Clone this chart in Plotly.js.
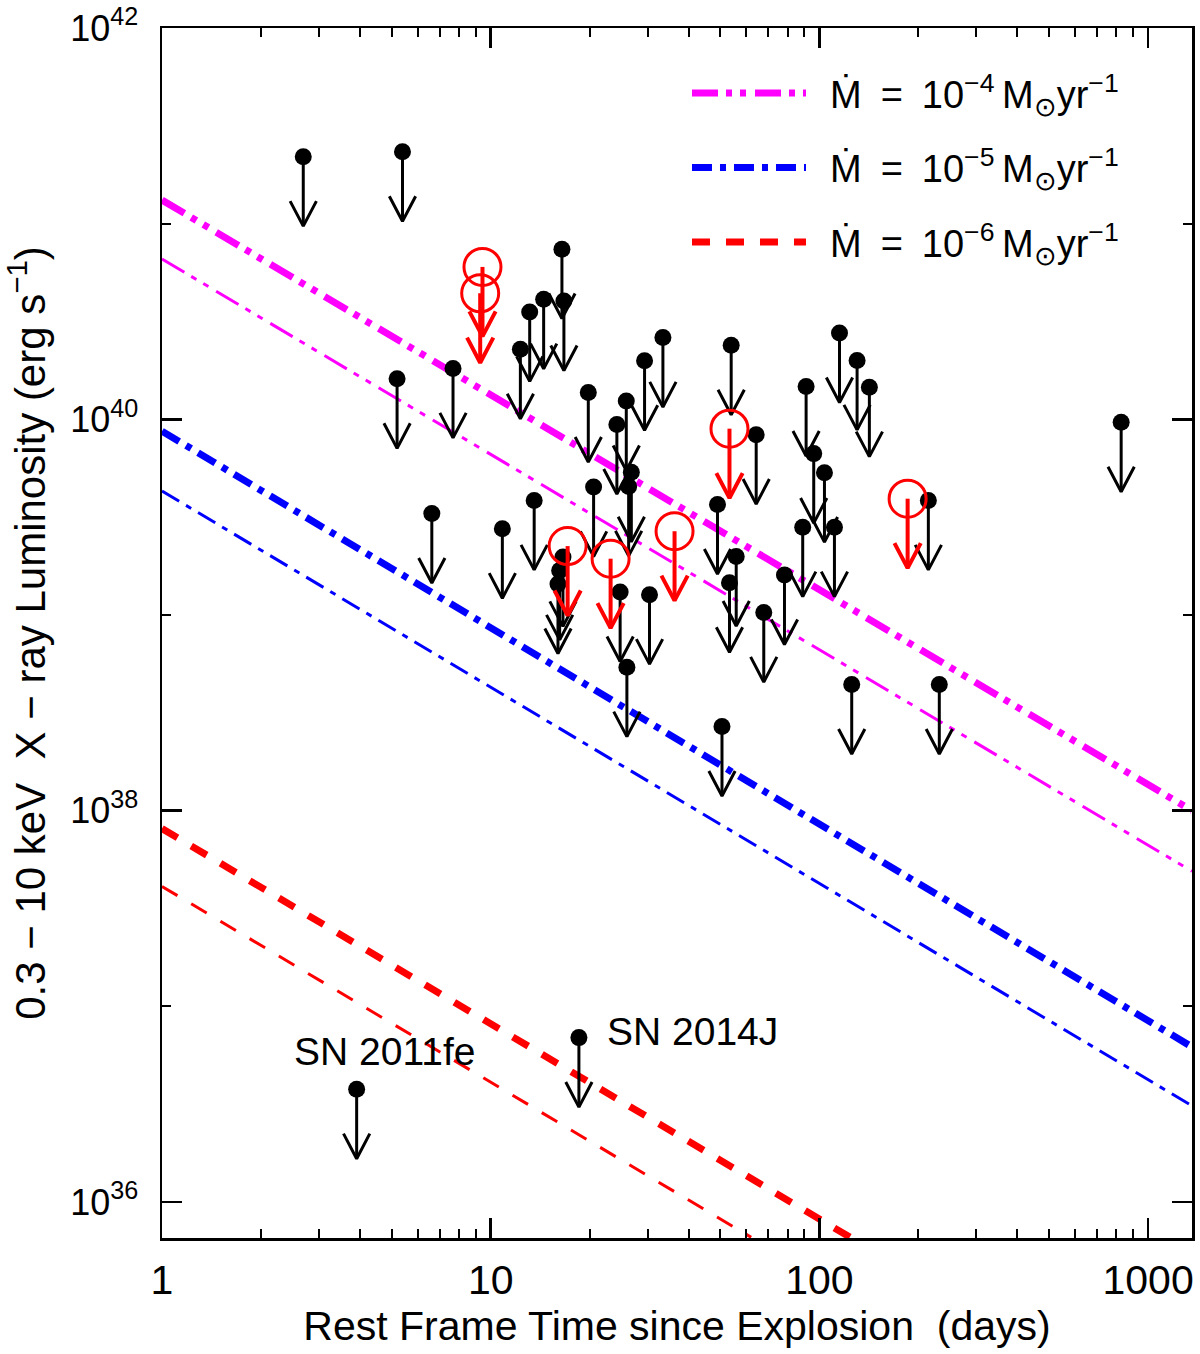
<!DOCTYPE html>
<html>
<head>
<meta charset="utf-8">
<script src="https://cdn.plot.ly/plotly-3.0.1.min.js"></script>
<style>
  html, body { margin: 0; padding: 0; background: #fff; }
  #plot { width: 1200px; height: 1354px; }
</style>
</head>
<body>
<div id="plot"></div>
<script>
// ── Upper limits from the literature (black), days / erg s^-1 ──────────────
const limT = [2.69, 5.39, 5.19, 7.68, 6.62, 10.85, 13.56, 12.31, 13.14, 14.49,
              16.47, 16.70, 19.81, 20.56, 24.20, 25.85, 26.78, 26.28, 29.38, 33.41,
              16.59, 16.21, 16.02, 24.76, 30.42, 25.96, 50.54, 48.97, 53.90, 64.22,
              55.83, 53.26, 67.72, 78.29, 88.96, 96.1, 103.6, 111.1, 91.1, 115.1,
              130.2, 141.9, 125.4, 231.6, 214.5, 827.9];
const limL = [2.20e41, 2.33e41, 1.61e40, 1.82e40, 3.30e39, 2.76e39, 3.85e39, 2.28e40, 3.54e40, 4.11e40,
              7.41e40, 4.02e40, 1.37e40, 4.51e39, 9.40e39, 1.24e40, 5.36e39, 4.54e39, 1.99e40, 2.62e40,
              1.98e39, 1.69e39, 1.44e39, 1.31e39, 1.27e39, 5.41e38, 2.69e38, 3.67e39, 2.39e40, 8.35e39,
              1.99e39, 1.46e39, 1.03e39, 1.60e39, 2.81e39, 6.68e39, 5.34e39, 2.81e39, 1.47e40, 2.76e40,
              2.00e40, 1.46e40, 4.41e38, 4.41e38, 3.85e39, 9.66e39];

// ── Upper limits from this sample (red open circles) ────────────────────────
const newT = [9.44, 9.29, 17.14, 23.16, 36.25, 53.26, 185.5];
const newL = [6.01e40, 4.41e40, 2.25e39, 1.94e39, 2.68e39, 8.96e39, 3.93e39];

// ── Nearby SNe ──────────────────────────────────────────────────────────────
const snNames = ['SN 2011fe', 'SN 2014J'];
const snT = [3.91, 18.55];
const snL = [3.77e36, 6.92e36];
const snLabelT = [4.76, 22.2];
const snLabelL = [5.85e36, 7.41e36];

// ── Wind models, L at the ends of each drawn segment ───────────────────────
const m4T = [1, 1360];
const m4Hi = [1.32e41, 1.0e38];
const m4Lo = [6.6e40, 4.9e37];
const m5T = [1, 1360];
const m5Hi = [8.7e39, 6.2e36];
const m5Lo = [4.3e39, 3.1e36];
const m6HiT = [1, 124];
const m6Hi = [8.1e37, 6.6e35];
const m6LoT = [1, 62];
const m6Lo = [4.1e37, 6.6e35];

const modelNames = [
  '\u2002Ṁ\u2002=\u200210<sup>−4</sup>\u2009M<sub>⊙</sub>yr<sup>−1</sup>',
  '\u2002Ṁ\u2002=\u200210<sup>−5</sup>\u2009M<sub>⊙</sub>yr<sup>−1</sup>',
  '\u2002Ṁ\u2002=\u200210<sup>−6</sup>\u2009M<sub>⊙</sub>yr<sup>−1</sup>'
];

// ── Tick labels ─────────────────────────────────────────────────────────────
const xTickVals = [1, 10, 100, 1000];
const xTickText = ['1', '10', '100', '1000'];
const yTickVals = [1e36, 1e38, 1e40, 1e42];
const yTickText = ['10<sup>36</sup>', '10<sup>38</sup>', '10<sup>40</sup>', '10<sup>42</sup>'];
const yMinorVals = [1e37, 1e39, 1e41];

// arrow shape in log units (shaft length, head height, head half-width)
const SHAFT = 0.355, HEAD_DY = 0.128, HEAD_DX = 0.04;

// shaft + open V head for each upper limit, null separated
function arrowPaths(ts, ls) {
  const x = [], y = [];
  ts.forEach((t, i) => {
    const tip = ls[i] * Math.pow(10, -SHAFT);
    const top = tip * Math.pow(10, HEAD_DY);
    x.push(t, t, null, t * Math.pow(10, -HEAD_DX), t, t * Math.pow(10, HEAD_DX), null);
    y.push(ls[i], tip, null, top, tip, top, null);
  });
  return { x, y };
}

const modelLine = (x, y, color, width, dash, name, legend) => ({
  type: 'scatter', mode: 'lines', x, y, name,
  line: { color, width, dash },
  showlegend: legend, legendgroup: name, hoverinfo: 'skip'
});

const DASH_M = '26px,8px,6px,8px,6px,9px';
const DASH_B = '20px,8px,6px,8px';
const DASH_R = '18px,16px';

const blackArr = arrowPaths(limT.concat(snT), limL.concat(snL));
const redArr = arrowPaths(newT, newL);

const traces = [
  modelLine(m4T, m4Hi, '#ff00ff', 7, DASH_M, modelNames[0], true),
  modelLine(m5T, m5Hi, '#0000ff', 7, DASH_B, modelNames[1], true),
  modelLine(m6HiT, m6Hi, '#ff0000', 7, DASH_R, modelNames[2], true),
  modelLine(m4T, m4Lo, '#ff00ff', 3, DASH_M, 'm4lo', false),
  modelLine(m5T, m5Lo, '#0000ff', 3, DASH_B, 'm5lo', false),
  modelLine(m6LoT, m6Lo, '#ff0000', 3, DASH_R, 'm6lo', false),
  { type: 'scatter', mode: 'lines', x: blackArr.x, y: blackArr.y,
    line: { color: 'black', width: 3 }, showlegend: false, hoverinfo: 'skip' },
  { type: 'scatter', mode: 'markers', x: limT.concat(snT), y: limL.concat(snL),
    marker: { symbol: 'circle', size: 17, color: 'black' }, showlegend: false },
  { type: 'scatter', mode: 'lines', x: redArr.x, y: redArr.y,
    line: { color: '#ff0000', width: 4 }, showlegend: false, hoverinfo: 'skip' },
  { type: 'scatter', mode: 'markers', x: newT, y: newL,
    marker: { symbol: 'circle-open', size: 37, color: '#ff0000', line: { width: 3, color: '#ff0000' } },
    showlegend: false }
];

const FONT = 'Liberation Sans, Arial, sans-serif';

const axisBase = {
  type: 'log', showgrid: false, zeroline: false,
  showline: true, linecolor: 'black', linewidth: 2.5, mirror: 'ticks',
  ticks: 'inside', ticklen: 20, tickwidth: 2.5, tickcolor: 'black',
  tickmode: 'array'
};

const layout = {
  width: 1200, height: 1354,
  margin: { l: 162, r: 8, t: 28, b: 116 },
  paper_bgcolor: 'white', plot_bgcolor: 'white',
  font: { family: FONT, color: 'black' },
  showlegend: true,
  legend: {
    x: 0.5097, y: 0.972, xanchor: 'left', yanchor: 'top',
    bgcolor: 'rgba(0,0,0,0)', borderwidth: 0,
    font: { family: FONT, size: 38, color: 'black' },
    itemwidth: 114, tracegroupgap: 22
  },
  xaxis: Object.assign({}, axisBase, {
    range: [0, 3.1335],
    tickvals: xTickVals, ticktext: xTickText,
    tickfont: { family: FONT, size: 41, color: 'black' },
    ticklabelstandoff: 4,
    minor: { ticks: 'inside', ticklen: 9, tickwidth: 2, tickcolor: 'black', dtick: 'D1', showgrid: false },
    title: { text: 'Rest Frame Time since Explosion\u00A0 (days)', font: { family: FONT, size: 41 }, standoff: 6 }
  }),
  yaxis: Object.assign({}, axisBase, {
    range: [35.816, 42],
    tickvals: yTickVals, ticktext: yTickText,
    tickfont: { family: FONT, size: 36, color: 'black' },
    ticklabelstandoff: 14,
    minor: { ticks: 'inside', ticklen: 9, tickwidth: 2, tickcolor: 'black', tickmode: 'array', tickvals: yMinorVals, showgrid: false },
    title: { text: '0.3 − 10\u00A0keV\u00A0 X − ray Luminosity (erg\u00A0s<sup>−1</sup>)', font: { family: FONT, size: 42 }, standoff: 16 }
  }),
  annotations: snNames.map((n, i) => ({
    x: Math.log10(snLabelT[i]), y: Math.log10(snLabelL[i]), xref: 'x', yref: 'y',
    text: n, showarrow: false, xanchor: i === 0 ? 'center' : 'left', yanchor: 'middle',
    font: { family: FONT, size: 39, color: 'black' }
  }))
};

Plotly.newPlot('plot', traces, layout, { displayModeBar: false, staticPlot: true });
</script>
</body>
</html>
